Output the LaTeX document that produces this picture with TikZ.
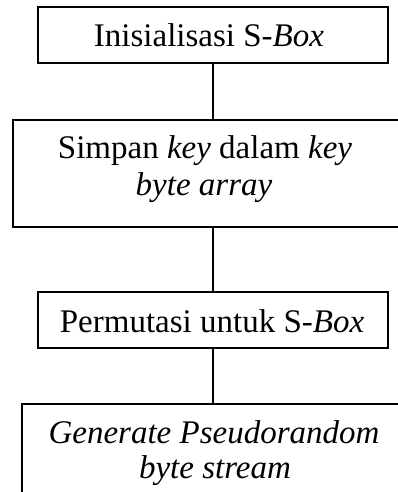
\documentclass[tikz,border=0pt]{standalone}
\usepackage{fontspec}
\setmainfont{Liberation Serif}
\begin{document}
\begin{tikzpicture}[x=1pt,y=-1pt,
  stepbox/.style={draw=black, line width=1.4pt, inner sep=0pt, rectangle},
  lbl/.style={anchor=base, inner sep=0pt, font=\fontsize{33}{36}\selectfont},
  conn/.style={draw=black, line width=1.3pt}]
\useasboundingbox (0,0) rectangle (398,492);
% boxes
\node[stepbox, minimum width=350pt, minimum height=56pt] (b1) at (213,35) {};
\node[stepbox, minimum width=387pt, minimum height=107pt] (b2) at (206.5,173.5) {};
\node[stepbox, minimum width=350pt, minimum height=56pt] (b3) at (213,320) {};
\node[stepbox, minimum width=386pt, minimum height=93pt] (b4) at (215,450.5) {};
% labels
\node[lbl] (t1) at (209,47) {Inisialisasi S-\textit{Box}};
\node[lbl] (t2a) at (205,158) {Simpan \textit{key} dalam \textit{key}};
\node[lbl] (t2b) at (204,195) {\textit{byte array}};
\node[lbl] (t3) at (212,332) {Permutasi untuk S-\textit{Box}};
\node[lbl] (t4a) at (214,443) {\textit{Generate Pseudorandom}};
\node[lbl] (t4b) at (215,478) {\textit{byte stream}};
% connectors
\draw[conn] (b1.south) -- (b1.south |- b2.north);
\draw[conn] (b1.south |- b2.south) -- (b1.south |- b3.north);
\draw[conn] (b3.south) -- (b3.south |- b4.north);
\end{tikzpicture}
\end{document}
